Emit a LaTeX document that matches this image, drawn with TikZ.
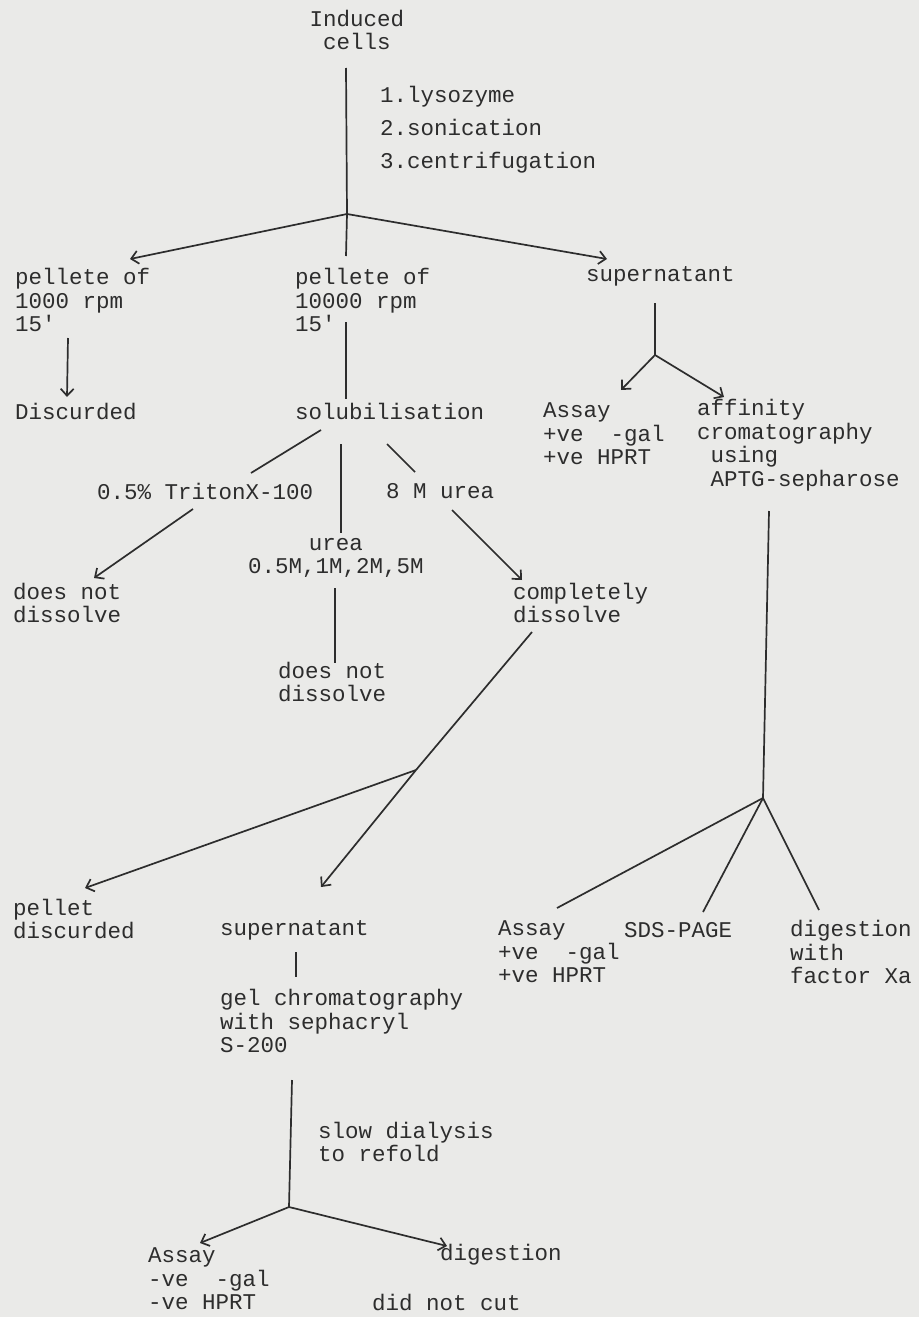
\documentclass[tikz,border=0pt]{standalone}
\usepackage{fontspec}
\setmonofont{Liberation Mono}
\usetikzlibrary{arrows.meta}
\definecolor{paper}{RGB}{234,234,232}
\definecolor{ink}{RGB}{45,45,45}
\tikzset{
  lbl/.style={font=\ttfamily\fontsize{22.5}{23.5}\selectfont, text=ink, inner sep=0pt, align=left, anchor=west},
  clbl/.style={lbl, align=center, anchor=center},
  ln/.style={draw=ink, line width=1.7pt},
  arr/.style={ln, -{Straight Barb[length=7pt,width=13pt]}}
}
\begin{document}
\begin{tikzpicture}[x=1pt,y=-1pt]
\fill[paper] (0,0) rectangle (919,1317);
\useasboundingbox (0,0) rectangle (919,1317);
% texts
\node[clbl] (ind) at (357,30) {Induced\\cells};
\node[lbl] (steps) at (380,130) {1.lysozyme\\[9.5pt]2.sonication\\[9.5pt]3.centrifugation};
\node[lbl] (p1) at (15,300) {pellete of\\1000 rpm\\15'};
\node[lbl] (p2) at (295,300) {pellete of\\10000 rpm\\15'};
\node[lbl] (sup1) at (586,276) {supernatant};
\node[lbl] (disc) at (15,411) {Discurded};
\node[lbl] (sol) at (295,411) {solubilisation};
\node[lbl] (assay1) at (543,434) {Assay\\+ve~~-gal\\+ve HPRT};
\node[lbl] (aff) at (697,445) {affinity\\cromatography\\~using\\~APTG-sepharose};
\node[lbl] (tri) at (97,491) {0.5\% TritonX-100};
\node[lbl] (m8) at (386,491) {8 M urea};
\node[clbl] (urea) at (336,558) {urea\\0.5M,1M,2M,5M};
\node[lbl] (dnd1) at (13,603) {does not\\dissolve};
\node[lbl] (comp) at (513,603) {completely\\dissolve};
\node[lbl] (dnd2) at (278,682) {does not\\dissolve};
\node[lbl] (pellet) at (13,919) {pellet\\discurded};
\node[lbl] (sup2) at (220,930) {supernatant};
\node[lbl] (assay2) at (498,952) {Assay\\+ve~~-gal\\+ve HPRT};
\node[lbl] (sds) at (624,930) {SDS-PAGE};
\node[lbl] (dig1) at (790,952) {digestion\\with\\factor Xa};
\node[lbl] (gel) at (220,1021) {gel chromatography\\with sephacryl\\S-200};
\node[lbl] (slow) at (318,1142) {slow dialysis\\to refold};
\node[lbl] (assay3) at (148,1279) {Assay\\-ve~~-gal\\-ve HPRT};
\node[lbl] (dig2) at (440,1255) {digestion};
\node[lbl] (dnc) at (372,1302) {did not cut};
% coordinates
\coordinate (ctop) at (346,68);
\coordinate (j1) at (347,214);
\coordinate (cvbot) at (346,256);
\coordinate (tp1) at (130,259);
\coordinate (tsup1) at (607,259);
\coordinate (dtop) at (68,338);
\coordinate (dbot) at (67,397);
\coordinate (p2top) at (346,322);
\coordinate (p2bot) at (346,399);
\coordinate (sa1) at (321,430);
\coordinate (sa2) at (251,473);
\coordinate (sb1) at (341,444);
\coordinate (sb2) at (341,533);
\coordinate (sc1) at (387,444);
\coordinate (sc2) at (415,472);
\coordinate (ta1) at (193,509);
\coordinate (ta2) at (94,578);
\coordinate (ma1) at (452,510);
\coordinate (ma2) at (522,580);
\coordinate (ua1) at (335,588);
\coordinate (ua2) at (335,663);
\coordinate (cd1) at (532,632);
\coordinate (j2) at (416,770);
\coordinate (tpel) at (85,888);
\coordinate (tsup2) at (321,887);
\coordinate (s2a) at (296,952);
\coordinate (s2b) at (296,977);
\coordinate (g1) at (292,1080);
\coordinate (j3) at (289,1207);
\coordinate (tas3) at (200,1243);
\coordinate (tdig2) at (447,1246);
\coordinate (su1) at (655,303);
\coordinate (j4) at (655,355);
\coordinate (tas1) at (621,390);
\coordinate (taff) at (724,397);
\coordinate (af1) at (769,511);
\coordinate (j5) at (763,798);
\coordinate (e1) at (557,908);
\coordinate (e2) at (703,912);
\coordinate (e3) at (819,910);
% connectors
\draw[ln] (ctop) -- (j1) -- (cvbot);
\draw[arr] (j1) -- (tp1);
\draw[arr] (j1) -- (tsup1);
\draw[arr] (dtop) -- (dbot);
\draw[ln] (p2top) -- (p2bot);
\draw[ln] (sa1) -- (sa2);
\draw[ln] (sb1) -- (sb2);
\draw[ln] (sc1) -- (sc2);
\draw[arr] (ta1) -- (ta2);
\draw[arr] (ma1) -- (ma2);
\draw[ln] (ua1) -- (ua2);
\draw[ln] (cd1) -- (j2);
\draw[arr] (j2) -- (tpel);
\draw[arr] (j2) -- (tsup2);
\draw[ln] (s2a) -- (s2b);
\draw[ln] (g1) -- (j3);
\draw[arr] (j3) -- (tas3);
\draw[arr] (j3) -- (tdig2);
\draw[ln] (su1) -- (j4);
\draw[arr] (j4) -- (tas1);
\draw[arr] (j4) -- (taff);
\draw[ln] (af1) -- (j5);
\draw[ln] (j5) -- (e1);
\draw[ln] (j5) -- (e2);
\draw[ln] (j5) -- (e3);
\end{tikzpicture}
\end{document}
